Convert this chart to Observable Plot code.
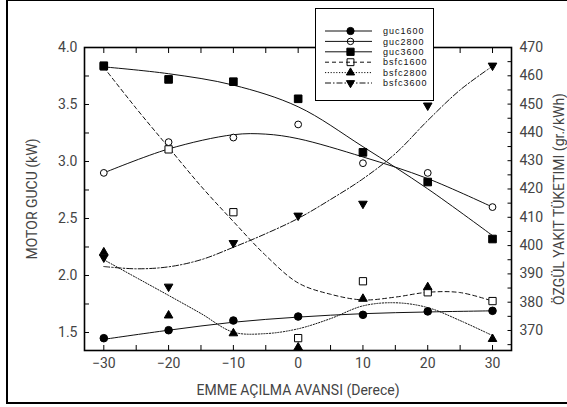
<!DOCTYPE html>
<html><head><meta charset="utf-8">
<script src="https://cdn.jsdelivr.net/npm/d3@7"></script>
<script src="https://cdn.jsdelivr.net/npm/@observablehq/plot@0.6"></script>
<style>
body{margin:0;background:#fff;}
#wrap{position:relative;width:567px;height:407px;overflow:hidden;}
#wrap svg{position:absolute;left:0;top:0;}
#frame{position:absolute;left:6px;top:-1px;width:640px;height:405px;border:2px solid #000;box-sizing:border-box;pointer-events:none;}
</style></head><body><div id="wrap"></div>
<script>
// ---- data ----
const xVals = [-30, -20, -10, 0, 10, 20, 30];
const guc1600 = [1.45, 1.52, 1.605, 1.64, 1.655, 1.685, 1.69];
const guc2800 = [2.90, 3.17, 3.21, 3.325, 2.985, 2.90, 2.60];
const guc3600 = [3.84, 3.72, 3.70, 3.55, 3.08, 2.82, 2.32];
const bsfc1600 = [463.3, 434, 411.8, 367.3, 387.4, 383.5, 380.4];
const bsfc2800 = [397.6, 375.3, 369, 364, 381.2, 385.3, 367];
const bsfc3600 = [395.8, 385.5, 400.9, 410.6, 414.8, 449.5, 463.6];

// fitted trend curves
const fitX10 = [-30, -20, -10, 0, 10, 20, 30];
const fitGuc1600 = [1.44, 1.52, 1.59, 1.635, 1.665, 1.68, 1.69];
const fitX2800 = [-30, -20, -10, -5, 0, 10, 20, 30];
const fitGuc2800 = [2.90, 3.11, 3.235, 3.24, 3.20, 3.04, 2.85, 2.60];
const fitGuc3600 = [3.83, 3.77, 3.67, 3.48, 3.13, 2.76, 2.35];
const fitX5 = [-30, -25, -20, -15, -10, -5, 0, 5, 10, 15, 20, 25, 30];
const fitBsfc1600 = [463, 448.5, 434.7, 421, 408.5, 396.5, 386.8, 382.8, 380.8, 381.8, 383.5, 383.4, 380.4];
const fitBsfc2800 = [395, 388.7, 382.4, 376, 369.4, 368.9, 370.6, 374.2, 378.7, 379.8, 378.1, 373.5, 368.2];
const fitBsfc3600 = [392.6, 391.8, 392.5, 395, 399.4, 404.2, 409.6, 416.3, 423.6, 432.5, 444.2, 455, 463.4];

const seriesNames = ["guc1600", "guc2800", "guc3600", "bsfc1600", "bsfc2800", "bsfc3600"];

// tick values
const xMajor = [-30, -20, -10, 0, 10, 20, 30];
const xMinor = [-30, -25, -20, -15, -10, -5, 0, 5, 10, 15, 20, 25, 30];
const lMajor = [1.5, 2.0, 2.5, 3.0, 3.5, 4.0];
const lMinor = [1.5, 1.75, 2.0, 2.25, 2.5, 2.75, 3.0, 3.25, 3.5, 3.75, 4.0];
const rMajor = [370, 380, 390, 400, 410, 420, 430, 440, 450, 460, 470];
const rMinor = [365, 370, 375, 380, 385, 390, 395, 400, 405, 410, 415, 420, 425, 430, 435, 440, 445, 450, 455, 460, 465, 470];

// ---- scales ----
const lDomain = [1.342, 4.0];
const rDomain = [362.93, 470];
const toLeft = d3.scaleLinear().domain(rDomain).range(lDomain);

const styles = {
  guc1600:  {sym: "circle",   fill: "#000", r: 3.8, dash: null, rotate: 0, axis: "L"},
  guc2800:  {sym: "circle",   fill: "#fff", r: 3.4, dash: null, rotate: 0, axis: "L"},
  guc3600:  {sym: "square",   fill: "#000", r: 4.3, dash: null, rotate: 0, axis: "L"},
  bsfc1600: {sym: "square",   fill: "#fff", r: 4.1, dash: "4,3", rotate: 0, axis: "R"},
  bsfc2800: {sym: "triangle", fill: "#000", r: 3.2, dash: "1.2,1.6", rotate: 0, axis: "R"},
  bsfc3600: {sym: "triangle", fill: "#000", r: 3.2, dash: "6,2,1.5,2", rotate: 180, axis: "R"}
};
const pointVals = {guc1600, guc2800, guc3600, bsfc1600, bsfc2800, bsfc3600};
const fitVals = {
  guc1600: [fitX10, fitGuc1600], guc2800: [fitX2800, fitGuc2800], guc3600: [fitX10, fitGuc3600],
  bsfc1600: [fitX5, fitBsfc1600], bsfc2800: [fitX5, fitBsfc2800], bsfc3600: [fitX5, fitBsfc3600]
};
const conv = (s, v) => styles[s].axis === "R" ? toLeft(v) : v;

const lineMarks = [], dotMarks = [];
for (const s of seriesNames) {
  const st = styles[s];
  const [fx, fy] = fitVals[s];
  const fitRows = fx.map((x, i) => ({x, y: conv(s, fy[i])}));
  lineMarks.push(Plot.line(fitRows, {x: "x", y: "y", curve: "catmull-rom", stroke: "#111", strokeWidth: 1, strokeDasharray: st.dash ?? undefined}));
}
for (const s of ["bsfc1600", "bsfc2800", "bsfc3600", "guc1600", "guc2800", "guc3600"]) {
  const st = styles[s];
  const rows = xVals.map((x, i) => ({x, y: conv(s, pointVals[s][i])}));
  dotMarks.push(Plot.dot(rows, {x: "x", y: "y", symbol: st.sym, r: st.r, fill: st.fill, stroke: "#000", strokeWidth: 1, rotate: st.rotate, clip: true}));
}

const fmtMinus = d => d < 0 ? "\u2212" + Math.abs(d) : String(d);
const blank = () => "";

const chart = Plot.plot({
  width: 567, height: 407,
  marginLeft: 84, marginRight: 56, marginTop: 47, marginBottom: 57,
  x: {domain: [-32.98, 32.93]},
  y: {domain: lDomain},
  style: {fontFamily: "Roboto, 'Liberation Sans', sans-serif", fontSize: "13px", color: "#000", background: "transparent", overflow: "visible"},
  marks: [
    Plot.axisX(xMinor, {anchor: "bottom", tickSize: -5, tickFormat: blank, label: null}),
    Plot.axisX(xMinor, {anchor: "top", tickSize: -5, tickFormat: blank, label: null}),
    Plot.axisX(xMajor, {anchor: "bottom", tickSize: 0, tickPadding: 8, tickFormat: fmtMinus, fill: "#444", fontSize: 14,
      label: "EMME AÇILMA AVANSI (Derece)", labelAnchor: "center", labelArrow: "none", labelOffset: 44}),
    Plot.axisY(lMinor, {anchor: "left", tickSize: -5, tickFormat: blank, label: null}),
    Plot.axisY(lMajor, {anchor: "left", tickSize: 0, tickPadding: 7, tickFormat: d3.format(".1f"), fill: "#444", fontSize: 14,
      label: "MOTOR GUCU (kW)", labelAnchor: "center", labelArrow: "none", labelOffset: 57}),
    Plot.axisY(rMinor.map(toLeft), {anchor: "right", tickSize: -4.5, tickFormat: blank, label: null}),
    Plot.axisY(rMajor.map(toLeft), {anchor: "right", tickSize: 0, tickPadding: 8, tickFormat: d => String(Math.round(toLeft.invert(d))), fill: "#444", fontSize: 14,
      label: "ÖZGÜL YAKIT TÜKETIMI (gr./kWh)", labelAnchor: "center", labelArrow: "none", labelOffset: 52}),
    Plot.frame({stroke: "#000", strokeWidth: 1.6}),
    ...lineMarks,
    ...dotMarks
  ]
});

// ---- legend ----
const svg = d3.select(chart.tagName === "svg" ? chart : chart.querySelector("svg"));
const lg = svg.append("g").attr("class", "legend").attr("text-anchor", "start");
lg.append("rect").attr("x", 315.5).attr("y", 8.5).attr("width", 118).attr("height", 92)
  .attr("fill", "#fff").attr("stroke", "#000").attr("stroke-width", 1);
const symMap = {circle: d3.symbolCircle, square: d3.symbolSquare, triangle: d3.symbolTriangle};
seriesNames.forEach((s, i) => {
  const st = styles[s];
  const y = 31 + i * 10.4;
  lg.append("line").attr("x1", 325).attr("x2", 372).attr("y1", y).attr("y2", y)
    .attr("stroke", "#111").attr("stroke-width", 1).attr("stroke-dasharray", st.dash);
  lg.append("path").attr("d", d3.symbol(symMap[st.sym], Math.PI * st.r * st.r * 0.9)())
    .attr("transform", `translate(350.5,${y}) rotate(${st.rotate})`)
    .attr("fill", st.fill === "#fff" ? "none" : st.fill).attr("stroke", "#000").attr("stroke-width", 1);
  lg.append("text").attr("x", 383).attr("y", y).attr("dy", "0.35em").attr("text-anchor", "start")
    .attr("font-family", "'Liberation Sans', Arial, sans-serif").attr("font-size", 9).attr("letter-spacing", 1)
    .attr("fill", "#111").text(s);
});

const wrap = document.getElementById("wrap");
wrap.appendChild(chart);
const fr = document.createElement("div"); fr.id = "frame"; wrap.appendChild(fr);
</script>
</body></html>
